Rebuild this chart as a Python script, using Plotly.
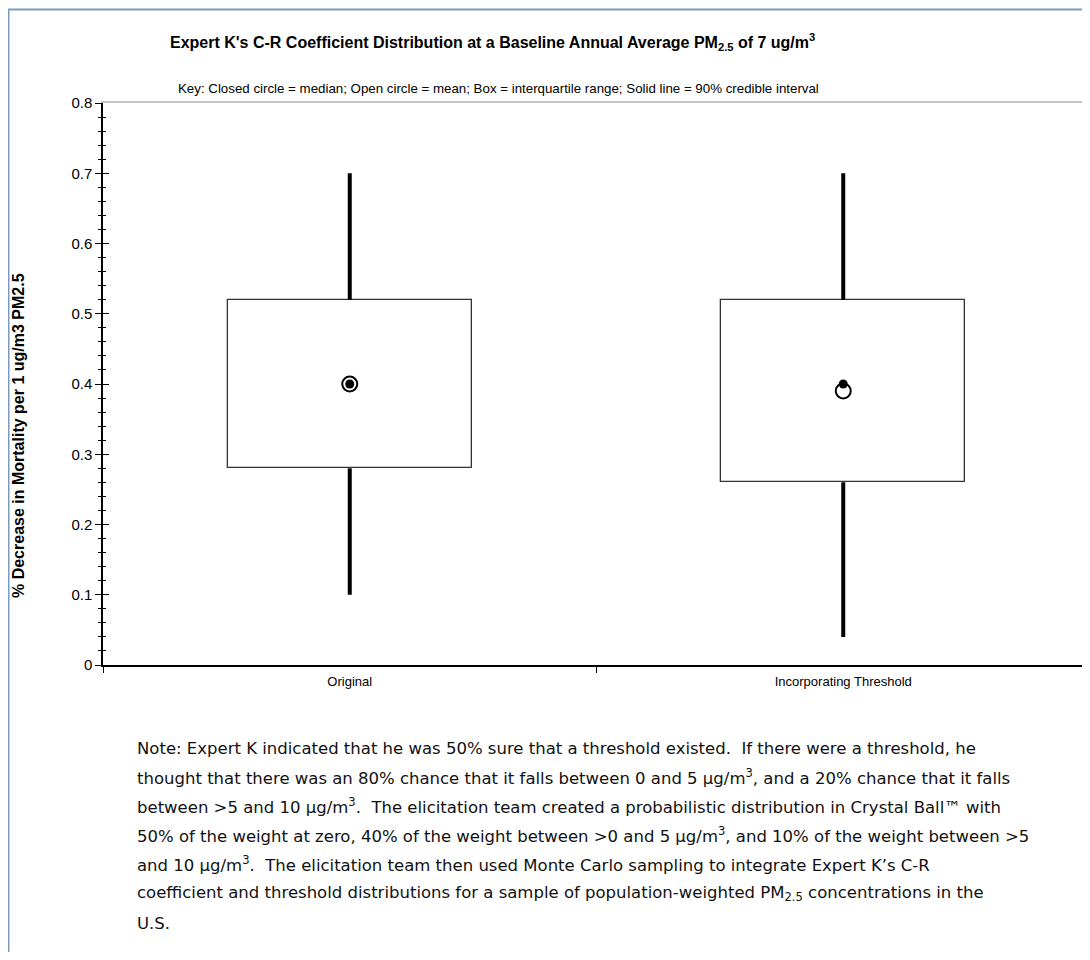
import plotly.graph_objects as go

# ---- data ----
categories = ["Original", "Incorporating Threshold"]
p05 = [0.10, 0.04]
q1 = [0.28, 0.26]
median = [0.40, 0.40]
mean = [0.40, 0.39]
q3 = [0.52, 0.52]
p95 = [0.70, 0.70]
y_ticks = [0, 0.1, 0.2, 0.3, 0.4, 0.5, 0.6, 0.7, 0.8]

OFF = 8                    # page body margin
W, H = 1090 - 2 * OFF, 960 - 2 * OFF
ARIAL = "Liberation Sans, Arial, sans-serif"
NOTE_FONT = "DejaVu Sans, Verdana, sans-serif"


def px(x):
    return (x - OFF) / W


def py(y):
    return 1 - (y - OFF) / H


fig = go.Figure()

# boxes (interquartile range)
fig.add_trace(go.Bar(
    x=categories,
    y=[b - a for a, b in zip(q1, q3)],
    base=q1,
    width=0.495,
    marker=dict(color="white", line=dict(color="#333333", width=1.3)),
    hoverinfo="skip",
    showlegend=False,
))

# whiskers (90% credible interval)
wx, wy = [], []
for c, lo, a, b, hi in zip(categories, p05, q1, q3, p95):
    wx += [c, c, None, c, c, None]
    wy += [lo, a, None, b, hi, None]
fig.add_trace(go.Scatter(x=wx, y=wy, mode="lines",
                         line=dict(color="black", width=4),
                         hoverinfo="skip", showlegend=False))

# mean (open circle)
fig.add_trace(go.Scatter(x=categories, y=mean, mode="markers",
                         marker=dict(symbol="circle", size=15, color="white",
                                     line=dict(color="black", width=2)),
                         showlegend=False))
# median (closed circle)
fig.add_trace(go.Scatter(x=categories, y=median, mode="markers",
                         marker=dict(symbol="circle", size=9, color="black",
                                     line=dict(width=0)),
                         showlegend=False))

# x domain: axis from 103 to 1090 px (clipped at page edge)
ax_l, ax_r = 103, 1090
x_dom = [px(ax_l), min(1.0, px(ax_r))]
y_dom = [py(665), py(103)]
full_span = 2.0
vis_frac = (x_dom[1] - x_dom[0]) / (px(ax_r) - px(ax_l))
x_range = [-0.5, -0.5 + full_span * vis_frac]

fig.update_layout(
    width=W, height=H,
    margin=dict(l=0, r=0, t=0, b=0, pad=0, autoexpand=False),
    paper_bgcolor="white", plot_bgcolor="white",
    bargap=0,
    xaxis=dict(
        domain=x_dom, type="category", range=x_range,
        categoryorder="array", categoryarray=categories,
        showline=True, linecolor="black", linewidth=1.5,
        ticks="outside", tickson="boundaries", ticklen=6, tickcolor="black",
        ticklabelstandoff=4,
        tickfont=dict(family=ARIAL, size=13, color="black"),
        showgrid=False, zeroline=False, automargin=False,
    ),
    xaxis2=dict(
        domain=x_dom, overlaying="x", side="top", range=[0, 1],
        showline=True, linecolor="#c4c4c4", linewidth=2,
        showticklabels=False, ticks="", showgrid=False, zeroline=False,
    ),
    yaxis=dict(
        domain=y_dom, range=[0, 0.8],
        tickvals=y_ticks, ticks="outside", ticklen=6, tickcolor="black",
        minor=dict(dtick=0.02, ticks="outside", ticklen=3, tickcolor="black", showgrid=False),
        showline=True, linecolor="black", linewidth=1.5,
        tickfont=dict(family=ARIAL, size=15, color="black"),
        showgrid=False, zeroline=False, automargin=False,
    ),
    yaxis2=dict(
        domain=y_dom, overlaying="y", anchor="x", side="left", range=[0, 0.8],
        tickvals=y_ticks, ticks="inside", ticklen=6, tickcolor="black",
        minor=dict(dtick=0.02, ticks="inside", ticklen=3, tickcolor="black", showgrid=False),
        showticklabels=False, showline=False, showgrid=False, zeroline=False,
    ),
)

# dummy trace to activate secondary axes
fig.add_trace(go.Scatter(x=[None], y=[None], xaxis="x2", yaxis="y2",
                         showlegend=False, hoverinfo="skip"))

annotations = [
    dict(text="<b>Expert K's C-R Coefficient Distribution at a Baseline Annual Average PM<sub>2.5</sub> of 7 ug/m<sup>3</sup></b>",
         x=px(492), y=py(42), xanchor="center", yanchor="middle",
         font=dict(family=ARIAL, size=16, color="black")),
    dict(text="Key: Closed circle = median; Open circle = mean; Box = interquartile range; Solid line = 90% credible interval",
         x=px(176), y=py(88), xanchor="left", yanchor="middle",
         font=dict(family=ARIAL, size=13.3, color="black")),
    dict(text="<b>% Decrease in Mortality per 1 ug/m3 PM2.5</b>",
         x=px(18), y=py(436), xanchor="center", yanchor="middle", textangle=-90,
         font=dict(family=ARIAL, size=16, color="black")),
]

SP = "\u00a0 "
note_lines = [
    "Note: Expert K indicated that he was 50% sure that a threshold existed." + SP + "If there were a threshold, he",
    "thought that there was an 80% chance that it falls between 0 and 5 \u00b5g/m<sup>3</sup>, and a 20% chance that it falls",
    "between >5 and 10 \u00b5g/m<sup>3</sup>." + SP + "The elicitation team created a probabilistic distribution in Crystal Ball\u2122 with",
    "50% of the weight at zero, 40% of the weight between >0 and 5 \u00b5g/m<sup>3</sup>, and 10% of the weight between >5",
    "and 10 \u00b5g/m<sup>3</sup>." + SP + "The elicitation team then used Monte Carlo sampling to integrate Expert K\u2019s C-R",
    "coefficient and threshold distributions for a sample of population-weighted PM<sub>2.5</sub> concentrations in the",
    "U.S.",
]
note_y = [748, 777, 806, 835, 864, 893, 923]
for t, yy in zip(note_lines, note_y):
    annotations.append(dict(text=t, x=px(135), y=py(yy), xanchor="left", yanchor="middle",
                            font=dict(family=NOTE_FONT, size=16.5, color="#111111")))

for a in annotations:
    a.update(xref="paper", yref="paper", showarrow=False)
fig.update_layout(annotations=annotations)

# outer frame
fig.add_shape(type="line", xref="paper", yref="paper", x0=px(8.5), x1=px(8.5), y0=0, y1=py(9),
              line=dict(color="#7b9bbd", width=2))
fig.add_shape(type="line", xref="paper", yref="paper", x0=px(8), x1=1, y0=py(9.5), y1=py(9.5),
              line=dict(color="#7b9bbd", width=2))

fig.write_html("out.html")
